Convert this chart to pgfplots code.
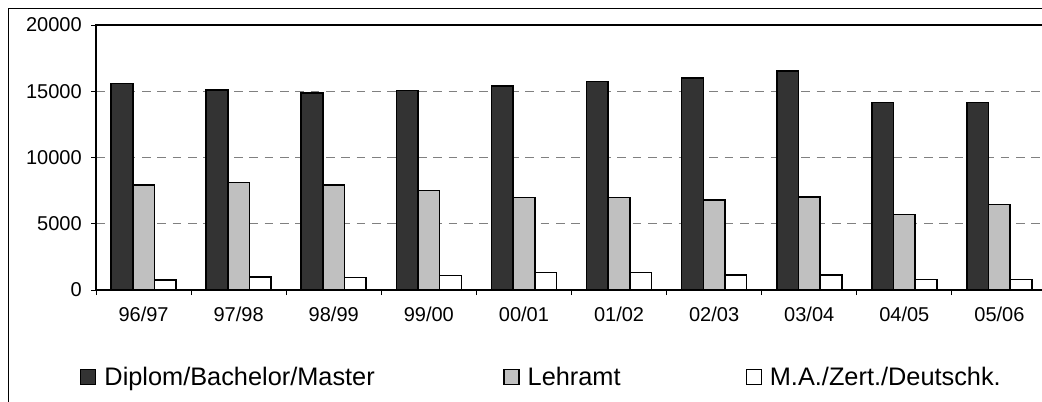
\documentclass[border=0pt]{standalone}
\usepackage{pgfplots}
\pgfplotsset{compat=1.18}
\usepackage{fontspec}
\setmainfont{Liberation Sans}

\definecolor{darkbar}{HTML}{333333}
\definecolor{greybar}{HTML}{C0C0C0}
\definecolor{gridgrey}{HTML}{808080}

\pgfplotstableread{
x  diplom lehramt ma
0  15600  7925    760
1  15100  8100    960
2  14850  7925    950
3  15050  7500    1090
4  15400  6970    1320
5  15750  6970    1320
6  16000  6790    1130
7  16530  7000    1130
8  14150  5710    800
9  14150  6440    800
}\studdata

\begin{document}
\begin{tikzpicture}
  % picture is 1042 x 401 px, 1 px = 0.75 pt
  \useasboundingbox (0,0) rectangle (781.5pt,300.75pt);
  \clip (0,0) rectangle (781.5pt,300.75pt);
  \draw[line width=0.75pt] (6.2pt,-20pt) -- (6.2pt,294.5pt) -- (820pt,294.5pt);
  \begin{axis}[
      at={(72pt,83.25pt)}, anchor=south west,
      scale only axis,
      width=713.25pt, height=198.75pt,
      xmin=-0.5, xmax=9.5,
      ymin=0, ymax=20000,
      ytick={0,5000,10000,15000,20000},
      yticklabels={0,5000,10000,15000,20000},
      scaled y ticks=false,
      xtick={0,...,9},
      xticklabels={96/97,97/98,98/99,99/00,00/01,01/02,02/03,03/04,04/05,05/06},
      minor xtick={-0.5,0.5,...,9.5},
      major x tick style={draw=none},
      tick pos=left,
      tick align=outside,
      major tick length=3.75pt,
      minor tick length=3.75pt,
      every tick/.style={black, line width=0.75pt},
      axis line style={line width=1.1pt},
      ymajorgrids,
      major grid style={dashed, dash pattern=on 6.5pt off 5pt, gridgrey, line width=0.75pt},
      ticklabel style={font=\fontsize{15}{18}\selectfont, inner sep=0pt},
      yticklabel style={anchor=east, xshift=-6.75pt},
      xticklabel style={anchor=base, yshift=-20pt},
      ybar=0pt,
      bar width=0.228,
      legend columns=3,
      legend style={
        at={(-0.0168,-0.328)}, anchor=west,
        draw=none, fill=none, inner sep=0pt,
        nodes={inner sep=0pt},
        font=\fontsize{19}{22}\selectfont,
        /tikz/every odd column/.append style={column sep=6pt},
      },
      legend image code/.code={
        \draw[#1, line width=0.9pt] (0pt,-5.8pt) rectangle (11.25pt,5.8pt);
      },
    ]
    \addplot[draw=black, line width=1.2pt, fill=darkbar] table[x=x, y=diplom] {\studdata};
    \addplot[draw=black, line width=1.2pt, fill=greybar] table[x=x, y=lehramt] {\studdata};
    \addplot[draw=black, line width=1.2pt, fill=white] table[x=x, y=ma] {\studdata};
    \legend{\makebox[299.25pt][l]{Diplom/Bachelor/Master},
            \makebox[163.5pt][l]{Lehramt},
            M.A./Zert./Deutschk.}
  \end{axis}
\end{tikzpicture}
\end{document}
